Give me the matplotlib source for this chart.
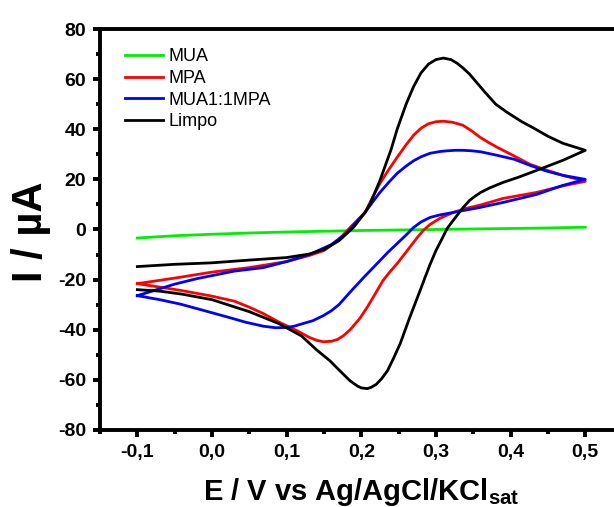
import matplotlib
matplotlib.use("Agg")
import matplotlib.pyplot as plt
from matplotlib.ticker import MultipleLocator, FuncFormatter

plt.rcParams["font.family"] = ["Liberation Sans", "DejaVu Sans"]
plt.rcParams["mathtext.fontset"] = "custom"
plt.rcParams["mathtext.rm"] = "Liberation Sans:bold"
plt.rcParams["mathtext.bf"] = "Liberation Sans:bold"

# MUA (green) - nearly flat response
mua_E = [-0.10, -0.05, 0.00, 0.05, 0.10, 0.15, 0.20, 0.25, 0.30, 0.35, 0.40, 0.45, 0.50]
mua_I = [-3.4, -2.5, -1.9, -1.4, -1.0, -0.7, -0.4, -0.2, 0.0, 0.2, 0.4, 0.6, 0.9]

# MPA (red)
mpa_E = [-0.10, -0.05, 0.00, 0.05, 0.10, 0.13, 0.15, 0.17, 0.185, 0.205, 0.215, 0.225,
         0.237, 0.248, 0.26, 0.27, 0.28, 0.29, 0.30, 0.31, 0.322, 0.336, 0.348, 0.359,
         0.37, 0.382, 0.403, 0.426, 0.45, 0.47, 0.50,
         0.47, 0.435, 0.39, 0.36, 0.34, 0.323, 0.305, 0.292, 0.283, 0.275, 0.26, 0.248,
         0.238, 0.229, 0.216, 0.208, 0.198, 0.185, 0.176, 0.168, 0.16, 0.149, 0.14,
         0.13, 0.114, 0.09, 0.069, 0.05, 0.03, 0.00, -0.04, -0.07, -0.10]
mpa_I = [-21.6, -19.4, -17.0, -15.2, -12.8, -10.4, -8.4, -4.0, 0.8, 6.8, 12.8, 18.4,
         24.0, 28.8, 33.8, 37.6, 40.4, 42.2, 43.0, 43.2, 42.8, 41.6, 39.3, 36.8,
         34.8, 32.8, 29.6, 26.0, 23.5, 21.6, 19.2,
         17.4, 14.8, 12.4, 9.8, 8.4, 6.8, 4.4, 2.0, -0.4, -3.2, -9.0, -13.6,
         -17.0, -20.4, -27.0, -31.0, -35.5, -40.0, -42.4, -43.9, -44.6, -44.8, -44.2,
         -43.0, -40.4, -37.0, -33.6, -31.0, -28.6, -26.6, -24.4, -23.0, -21.6]

# MUA1:1MPA (blue)
mix_E = [-0.10, -0.05, -0.02, 0.03, 0.069, 0.10, 0.132, 0.16, 0.18, 0.205, 0.215, 0.225,
         0.237, 0.248, 0.26, 0.27, 0.28, 0.292, 0.305, 0.315, 0.326, 0.336, 0.348, 0.36,
         0.382, 0.405, 0.426, 0.447, 0.47, 0.50,
         0.47, 0.435, 0.39, 0.359, 0.323, 0.305, 0.292, 0.28, 0.27, 0.26, 0.248, 0.236,
         0.225, 0.203, 0.185, 0.17, 0.16, 0.149, 0.135, 0.12, 0.11, 0.10, 0.085, 0.069,
         0.045, 0.024, -0.01, -0.042, -0.07, -0.10]
mix_I = [-26.4, -21.8, -19.6, -16.6, -15.2, -12.8, -9.8, -6.0, -1.5, 6.8, 10.9, 14.8,
         18.9, 22.4, 25.3, 27.4, 29.0, 30.4, 31.1, 31.4, 31.6, 31.6, 31.4, 31.0,
         29.6, 28.0, 25.6, 23.4, 21.6, 20.0,
         17.6, 14.0, 10.8, 8.8, 6.8, 5.8, 4.8, 3.0, 0.8, -2.2, -5.6, -9.0,
         -12.4, -19.2, -25.0, -30.0, -32.4, -34.4, -36.4, -37.7, -38.6, -39.1, -39.2, -38.6,
         -37.0, -35.2, -32.4, -29.8, -28.0, -26.4]

# Limpo (black) - bare electrode
limpo_E = [-0.10, -0.05, 0.00, 0.05, 0.10, 0.13, 0.15, 0.17, 0.19, 0.205, 0.212,
           0.225, 0.24, 0.248, 0.26, 0.27, 0.28, 0.29, 0.30, 0.31, 0.32, 0.328, 0.336,
           0.345, 0.355, 0.365, 0.38, 0.395, 0.415, 0.43, 0.45, 0.47, 0.50,
           0.47, 0.435, 0.41, 0.39, 0.372, 0.36, 0.352, 0.345, 0.336, 0.323, 0.315, 0.31,
           0.30, 0.292, 0.285, 0.28, 0.265, 0.252, 0.243, 0.235, 0.227, 0.22, 0.213,
           0.208, 0.2, 0.195, 0.185, 0.17, 0.158, 0.14, 0.12, 0.09, 0.05, 0.00, -0.04,
           -0.07, -0.10]
limpo_I = [-14.8, -13.9, -13.3, -12.2, -11.2, -9.8, -8.0, -4.5, 1.0, 6.8, 10.4,
           19.6, 32.0, 40.0, 50.0, 57.0, 62.5, 66.0, 67.8, 68.4, 67.8, 66.4, 64.5,
           62.0, 58.5, 55.0, 50.0, 46.8, 43.0, 40.6, 37.2, 34.4, 31.6,
           27.6, 23.6, 20.8, 18.8, 16.6, 14.8, 13.2, 11.6, 8.6, 3.6, 0.4, -2.6,
           -8.4, -14.0, -19.4, -23.4, -35.0, -45.6, -51.5, -56.4, -59.6, -61.8, -63.0,
           -63.5, -63.2, -62.5, -60.4, -56.0, -52.4, -48.0, -42.5, -37.6, -32.8, -28.0,
           -25.8, -24.6, -24.0]

x_ticks = [-0.1, 0.0, 0.1, 0.2, 0.3, 0.4, 0.5]
y_ticks = [-80, -60, -40, -20, 0, 20, 40, 60, 80]

fig = plt.figure(figsize=(6.14, 5.07), dpi=100)
ax = fig.add_axes([0.1629, 0.1519, 0.8511, 0.7909])

lw = 2.0
ax.plot(mua_E, mua_I, color="#00ee00", lw=lw, label="MUA")
ax.plot(mpa_E, mpa_I, color="#ff0000", lw=lw, label="MPA")
ax.plot(mix_E, mix_I, color="#0000ff", lw=lw, label="MUA1:1MPA")
ax.plot(limpo_E, limpo_I, color="black", lw=lw, label="Limpo")

ax.set_xlim(-0.15, 0.55)
ax.set_ylim(-80, 80)
ax.set_xticks(x_ticks)
ax.set_yticks(y_ticks)
ax.xaxis.set_minor_locator(MultipleLocator(0.05))
ax.yaxis.set_minor_locator(MultipleLocator(10))
ax.xaxis.set_major_formatter(FuncFormatter(lambda v, p: f"{v:.1f}".replace(".", ",").replace("-0,0", "0,0")))
ax.yaxis.set_major_formatter(FuncFormatter(lambda v, p: f"{v:.0f}"))

for s in ax.spines.values():
    s.set_linewidth(2.8)
ax.tick_params(which="major", direction="out", length=5, width=2.8, pad=5,
               labelsize=14)
ax.tick_params(which="minor", direction="out", length=3, width=2.8)
ax.tick_params(top=False, right=False, which="both")
for lab in ax.get_xticklabels() + ax.get_yticklabels():
    lab.set_fontweight("bold")

ax.set_ylabel("I / µA", fontsize=30, fontweight="bold")
ax.set_xlabel(r"E / V vs Ag/AgCl/KCl$_\mathrm{sat}$", fontsize=21,
              fontweight="bold")
ax.xaxis.set_label_coords(0.50, -0.115)
ax.yaxis.set_label_coords(-0.094, 0.494)

ax.legend(loc="upper left", bbox_to_anchor=(0.048, 0.952), frameon=False,
          fontsize=13, handlelength=2.1, handletextpad=0.3, labelspacing=0.26,
          borderpad=0, borderaxespad=0)

fig.savefig("out.png", dpi=100)
